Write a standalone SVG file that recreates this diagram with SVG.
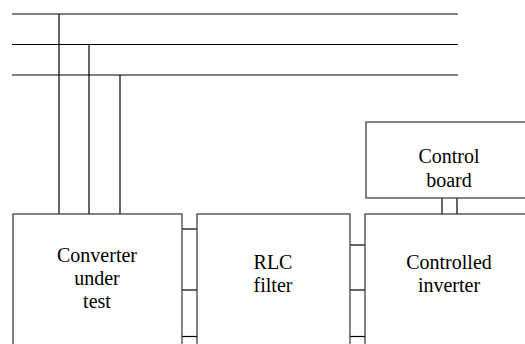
<svg xmlns="http://www.w3.org/2000/svg" width="525" height="344" viewBox="0 0 525 344">
<style>
.ln{stroke:#000;stroke-width:1.2;fill:none}
.bx{stroke:#333;stroke-width:1.2;fill:#fff}
text{font-family:"Times New Roman",Times,"Liberation Serif","DejaVu Serif",serif;font-size:20px;fill:#000;text-anchor:middle}
</style>
<rect width="525" height="344" fill="#fff"/>
<g id="connectors">
<line class="ln" x1="12" y1="14" x2="458" y2="14"/>
<line class="ln" x1="12" y1="44.5" x2="458" y2="44.5"/>
<line class="ln" x1="12" y1="75" x2="458" y2="75"/>
<line class="ln" x1="59" y1="14" x2="59" y2="214"/>
<line class="ln" x1="89" y1="44.5" x2="89" y2="214"/>
<line class="ln" x1="120" y1="75" x2="120" y2="214"/>
<line class="ln" x1="182" y1="229" x2="197" y2="229"/>
<line class="ln" x1="182" y1="290" x2="197" y2="290"/>
<line class="ln" x1="182" y1="336.5" x2="197" y2="336.5"/>
<line class="ln" x1="350" y1="245" x2="365" y2="245"/>
<line class="ln" x1="350" y1="290" x2="365" y2="290"/>
<line class="ln" x1="350" y1="336.5" x2="365" y2="336.5"/>
<line class="ln" x1="442" y1="198" x2="442" y2="214"/>
<line class="ln" x1="457" y1="198" x2="457" y2="214"/>
</g>
<g id="converter">
<rect class="bx" x="13" y="214" width="169" height="140"/>
<text x="97" y="262">Converter</text>
<text x="97" y="285">under</text>
<text x="97" y="308">test</text>
</g>
<g id="rlc">
<rect class="bx" x="197" y="214" width="153" height="140"/>
<text x="273" y="269">RLC</text>
<text x="273" y="292">filter</text>
</g>
<g id="inverter">
<rect class="bx" x="365" y="214" width="170" height="140"/>
<text x="449" y="269">Controlled</text>
<text x="449" y="292">inverter</text>
</g>
<g id="control">
<rect class="bx" x="366" y="122" width="170" height="76"/>
<text x="449" y="163">Control</text>
<text x="449" y="187">board</text>
</g>
</svg>
